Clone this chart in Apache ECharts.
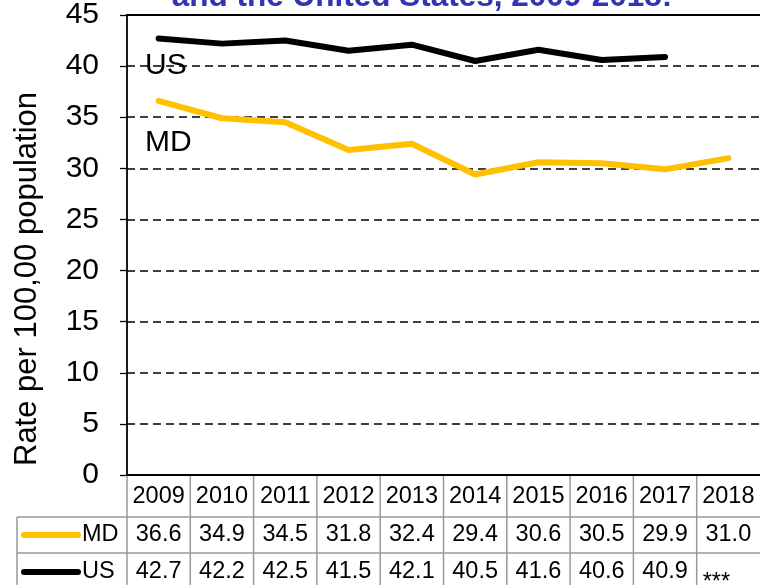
<!DOCTYPE html>
<html>
<head>
<meta charset="utf-8">
<script src="https://cdn.jsdelivr.net/npm/echarts@6/dist/echarts.min.js"></script>
<style>
  html, body { margin: 0; padding: 0; background: #fff; }
  #chart { width: 760px; height: 585px; }
</style>
</head>
<body>
<div id="chart"></div>
<script>
// Rates per 100,000 population, Maryland vs United States
const years = ['2009', '2010', '2011', '2012', '2013', '2014', '2015', '2016', '2017', '2018'];
const mdRates = [36.6, 34.9, 34.5, 31.8, 32.4, 29.4, 30.6, 30.5, 29.9, 31.0];
const usRates = [42.7, 42.2, 42.5, 41.5, 42.1, 40.5, 41.6, 40.6, 40.9, null];
const seriesNames = ['MD', 'US'];
const seriesColors = ['#FFC000', '#000000'];
const yTickValues = [0, 5, 10, 15, 20, 25, 30, 35, 40, 45];
const missingMark = '***';
const titleText = 'and the United States, 2009-2018:';
const yAxisTitle = 'Rate per 100,00 population';

const FONT = "'Liberation Sans', Arial, sans-serif";
const GRID_LINE = '#999999';

const chart = echarts.init(document.getElementById('chart'), null, { renderer: 'canvas' });

const yMin = yTickValues[0];
const yMax = yTickValues[yTickValues.length - 1];
const yStep = yTickValues[1] - yTickValues[0];

chart.setOption({
  animation: false,
  grid: { left: 127, right: -5, top: 15, bottom: 110 },
  xAxis: [
    {
      type: 'category', data: years, boundaryGap: true,
      axisLine: { lineStyle: { color: '#000', width: 1.8 } },
      axisTick: { show: false }, axisLabel: { show: false }
    },
    {
      type: 'category', data: years, position: 'top',
      axisLine: { lineStyle: { color: '#000', width: 1.8 } },
      axisTick: { show: false }, axisLabel: { show: false }
    }
  ],
  yAxis: {
    type: 'value', min: yMin, max: yMax, interval: yStep,
    axisLine: { show: true, lineStyle: { color: '#000', width: 1.8 } },
    axisTick: { show: true, length: 7, lineStyle: { color: '#000', width: 1.3 } },
    axisLabel: { fontSize: 30, color: '#000', fontFamily: FONT, margin: 28 },
    splitLine: { show: true, lineStyle: { type: [8, 5], color: '#000', width: 1.5 } }
  },
  series: [
    {
      name: seriesNames[0], type: 'line', data: mdRates, symbol: 'none',
      lineStyle: { color: seriesColors[0], width: 6, cap: 'round', join: 'round' }, z: 3
    },
    {
      name: seriesNames[1], type: 'line', data: usRates, symbol: 'none',
      lineStyle: { color: seriesColors[1], width: 6, cap: 'round', join: 'round' }, z: 4
    }
  ]
});

// Data table under the plot, aligned with the category axis
const centers = years.map((y, i) => chart.convertToPixel({ xAxisIndex: 0 }, i));
const half = (centers[1] - centers[0]) / 2;
const plotBottom = chart.convertToPixel({ yAxisIndex: 0 }, yMin);
const rowTops = [plotBottom, 517, 553];
const rowMids = [497, 535, 572];
const tableLeft = 17;
const tableRight = centers[centers.length - 1] + half;
const tableBottom = 600;

const g = [];
const line = (x1, y1, x2, y2, color, w) => g.push({
  type: 'line', shape: { x1, y1, x2, y2 }, silent: true, z: 10,
  style: { stroke: color, lineWidth: w }
});
const text = (x, y, s, opts) => g.push({
  type: 'text', x, y, silent: true, z: 11,
  style: Object.assign({ text: s, fill: '#000', font: '23.5px ' + FONT, align: 'center', verticalAlign: 'middle' }, opts || {})
});

// horizontal rules
line(tableLeft, rowTops[1], tableRight, rowTops[1], GRID_LINE, 1.5);
line(tableLeft, rowTops[2], tableRight, rowTops[2], GRID_LINE, 1.5);
// vertical rules
line(tableLeft, rowTops[1], tableLeft, tableBottom, GRID_LINE, 1.5);
centers.forEach((c) => line(c - half, plotBottom + 1, c - half, tableBottom, GRID_LINE, 1.5));

// header and value cells
const rows = [mdRates, usRates];
years.forEach((yr, i) => {
  text(centers[i], rowMids[0], yr);
  rows.forEach((vals, r) => {
    const v = vals[i];
    if (v == null) {
      text(centers[i] - half + 6, rowMids[r + 1] + 11, missingMark, { align: 'left' });
    } else {
      text(centers[i], rowMids[r + 1], v.toFixed(1));
    }
  });
});

// legend keys in the row headers
seriesNames.forEach((name, r) => {
  const y = rowMids[r + 1];
  g.push({
    type: 'line', shape: { x1: 24, y1: y, x2: 78, y2: y }, silent: true, z: 11,
    style: { stroke: seriesColors[r], lineWidth: 6, lineCap: 'round' }
  });
  text(82, y, name, { align: 'left' });
});

// series labels inside the plot
const lblX = centers[0] - half + 18;
text(lblX, chart.convertToPixel({ yAxisIndex: 0 }, 40), seriesNames[1], { align: 'left', font: '30px ' + FONT });
text(lblX, 143, seriesNames[0], { align: 'left', font: '30px ' + FONT });

// y axis title
g.push({
  type: 'text', x: 27, y: 279, rotation: Math.PI / 2, silent: true, z: 11,
  style: { text: yAxisTitle, fill: '#000', font: '31px ' + FONT, align: 'center', verticalAlign: 'middle' }
});

// chart title (runs off the top edge)
g.push({
  type: 'text', x: 422, y: -3, silent: true, z: 11,
  style: { text: titleText, fill: '#3333B3', font: 'bold 31.5px ' + FONT, align: 'center', verticalAlign: 'middle' }
});

chart.setOption({ graphic: { elements: g } });
</script>
</body>
</html>
